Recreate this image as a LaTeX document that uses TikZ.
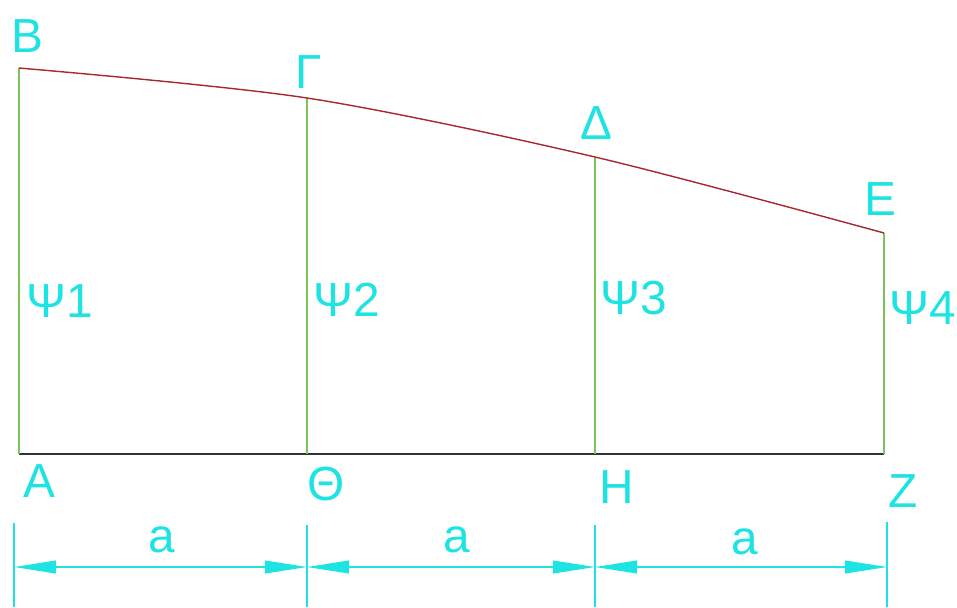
\documentclass[tikz,border=0pt]{standalone}
\usepackage{fontspec}
\setmainfont{Liberation Sans}
\usetikzlibrary{arrows.meta}
\definecolor{cyanlbl}{HTML}{1EE3E3}
\definecolor{ordgreen}{HTML}{7CC35A}
\definecolor{curvered}{HTML}{A8282E}
\definecolor{basegray}{HTML}{333333}
\tikzset{
  lbl/.style={text=cyanlbl,font=\fontsize{34}{36}\selectfont,inner sep=0pt},
  dimarr/.style={cyanlbl,line width=1pt,
    {Triangle[length=10.5mm,width=3.2mm]}-{Triangle[length=10.5mm,width=3.2mm]}},
  extline/.style={cyanlbl,line width=0.8pt}
}

\begin{document}
\begin{tikzpicture}[x=0.025cm,y=-0.025cm]
\useasboundingbox (0,0) rectangle (957,607);
% points on the base
\coordinate (A) at (19,454); \coordinate (T) at (307,454);
\coordinate (H) at (595,454); \coordinate (Z) at (884,454);
% points on the curve
\coordinate (B) at (19,68); \coordinate (G) at (307,98);
\coordinate (D) at (595,157); \coordinate (E) at (884,233);
\draw[basegray,line width=1pt] (A)--(Z);
\draw[ordgreen,line width=1pt] (A)--(B) (T)--(G) (H)--(D) (Z)--(E);
\draw[curvered,line width=1pt] plot[smooth] coordinates {(B) (G) (D) (E)};
% dimensions
\coordinate (eA1) at (14,523); \coordinate (eA2) at (14,607);
\coordinate (eT1) at (307,525); \coordinate (eT2) at (307,607);
\coordinate (eH1) at (595,525); \coordinate (eH2) at (595,607);
\coordinate (eZ1) at (887,522); \coordinate (eZ2) at (887,607);
\draw[extline] (eA1)--(eA2) (eT1)--(eT2) (eH1)--(eH2) (eZ1)--(eZ2);
\coordinate (dA) at (14,567); \coordinate (dT) at (307,567);
\coordinate (dH) at (595,567); \coordinate (dZ) at (887,567);
\draw[dimarr] (dA)--(dT);
\draw[dimarr] (dT)--(dH);
\draw[dimarr] (dH)--(dZ);
% labels
\node[lbl] (lB) at (27,36) {B};
\node[lbl] (lG) at (309,72) {Γ};
\node[lbl] (lD) at (596,123) {Δ};
\node[lbl] (lE) at (880,199) {E};
\node[lbl] (p1) at (60,301) {Ψ1};
\node[lbl] (p2) at (347,300) {Ψ2};
\node[lbl] (p3) at (634,298) {Ψ3};
\node[lbl] (p4) at (923,308) {Ψ4};
\node[lbl] (lA) at (39,481) {A};
\node[lbl] (lT) at (326,484) {Θ};
\node[lbl] (lH) at (617,487) {H};
\node[lbl] (lZ) at (903,491) {Z};
\node[lbl] (a1) at (162,540) {a};
\node[lbl] (a2) at (457,540) {a};
\node[lbl] (a3) at (745,542) {a};
\end{tikzpicture}
\end{document}
